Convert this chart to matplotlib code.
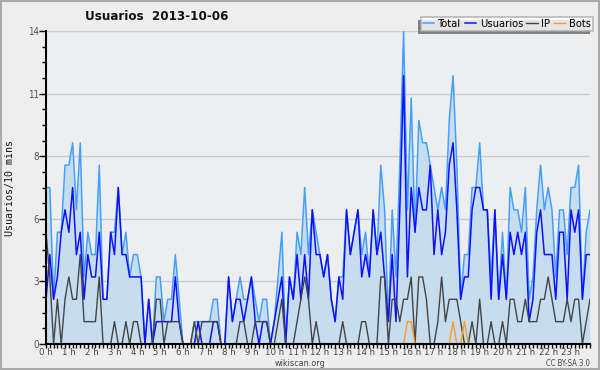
import numpy as np
import matplotlib
matplotlib.use("Agg")
import matplotlib.pyplot as plt
from matplotlib import font_manager as fm
from matplotlib.ticker import FixedLocator, MultipleLocator

# users per 10-minute slot, 2013-10-06 (144 slots)
usuarios = [2, 4, 2, 3, 5, 6, 5, 7, 4, 5, 2, 4, 3, 3, 5, 2, 2, 5, 4, 7,
            4, 4, 3, 3, 3, 3, 0, 2, 0, 1, 1, 1, 1, 1, 3, 1, 0, 0, 0, 0,
            1, 0, 0, 0, 1, 1, 0, 0, 3, 1, 2, 2, 1, 2, 3, 1, 0, 1, 1, 0,
            1, 2, 3, 0, 3, 2, 4, 2, 4, 2, 6, 4,
            4, 3, 4, 2, 1, 3, 2, 6, 4, 5, 6, 3, 4, 3, 6, 4, 5, 3, 1, 4,
            1, 6, 12, 3, 7, 5, 7, 6, 6, 8, 4, 6, 4, 5, 8, 9, 6, 2, 3, 3,
            6, 7, 7, 6, 6, 2, 6, 2, 4, 2, 5, 4, 5, 4, 5, 1, 2, 5, 6, 4,
            4, 4, 2, 5, 5, 2, 6, 5, 6, 2, 4, 4]
ip = [5, 3, 0, 2, 0, 2, 3, 2, 2, 4, 1, 1, 1, 1, 3, 0, 0, 0, 1, 0,
      0, 1, 0, 1, 1, 0, 0, 0, 0, 2, 2, 0, 1, 1, 1, 1, 0, 0, 0, 1,
      0, 1, 1, 1, 1, 1, 0, 0, 0, 0, 0, 1, 1, 0, 0, 1, 1, 1, 1, 0,
      0, 1, 2, 0, 0, 0, 1, 2, 3, 2, 0, 1,
      0, 0, 0, 0, 0, 0, 1, 0, 0, 0, 0, 1, 1, 0, 0, 0, 3, 3, 0, 2,
      2, 1, 2, 2, 3, 0, 3, 3, 2, 0, 0, 1, 3, 1, 2, 2, 2, 1, 0, 0,
      1, 0, 2, 0, 0, 1, 0, 0, 1, 0, 2, 2, 1, 1, 2, 1, 1, 1, 2, 2,
      3, 2, 1, 1, 1, 2, 1, 2, 2, 0, 1, 2]
bots = [0] * 95 + [1, 1] + [0] * 10 + [1, 0, 0, 1] + [0] * 33
total = [7, 7, 2, 5, 5, 8, 8, 9, 6, 9, 3, 5, 4, 4, 8, 2, 2, 5, 5, 7,
         4, 5, 3, 4, 4, 3, 0, 2, 0, 3, 3, 1, 2, 2, 4, 2, 0, 0, 0, 1,
         1, 1, 1, 1, 2, 2, 0, 0, 3, 1, 2, 3, 2, 2, 3, 2, 1, 2, 2, 0,
         1, 3, 5, 0, 3, 2, 5, 4, 7, 4, 6, 5,
         4, 3, 4, 2, 1, 3, 3, 6, 4, 5, 6, 4, 5, 3, 6, 4, 8, 6, 1, 6,
         3, 8, 14, 6, 11, 5, 10, 9, 9, 8, 7, 6, 7, 6, 10, 12, 8, 2, 4, 4,
         7, 7, 9, 6, 6, 3, 6, 2, 5, 2, 7, 6, 6, 5, 7, 2, 3, 6, 8, 6,
         7, 6, 3, 6, 6, 4, 7, 7, 8, 2, 5, 6]
hours = [f"{h} h" for h in range(24)]
y_labels = ["0", "3", "6", "8", "11", "14"]


def narrow_font():
    # prefer a condensed face; fall back to Liberation Sans
    try:
        p = fm.findfont(fm.FontProperties(family="DejaVu Sans", stretch="condensed"),
                        fallback_to_default=False)
        if "ondensed" in p:
            return dict(family="DejaVu Sans", stretch="condensed")
    except Exception:
        pass
    try:
        p = fm.findfont(fm.FontProperties(family="Liberation Sans Narrow"),
                        fallback_to_default=False)
        if "Narrow" in p:
            return dict(family="Liberation Sans Narrow")
    except Exception:
        pass
    return dict(family="Liberation Sans")


NF = narrow_font()
x = np.arange(len(total))

fig = plt.figure(figsize=(6, 3.7), dpi=100, facecolor="#eeeeee")
ax = fig.add_axes([46 / 600, 26 / 370, 544 / 600, 313 / 370])
ax.set_facecolor("#edeef0")

ax.fill_between(x, total, 0, color="#c6ddf0", lw=0)
ax.plot(x, total, color="#44a0ff", lw=1.1, label="Total")
ax.plot(x, usuarios, color="#1010ff", lw=1.1, label="Usuarios")
ax.plot(x, ip, color="#444444", lw=1.0, label="IP")
ax.plot(x, bots, color="#ff9a1a", lw=1.0, label="Bots")

ax.set_xlim(0, len(total) - 1)
ax.set_ylim(0, 14)

yt = np.linspace(0, 14, 6)
ax.yaxis.set_major_locator(FixedLocator(yt))
ax.set_yticklabels(y_labels)
ax.yaxis.set_minor_locator(MultipleLocator(0.7))
ax.xaxis.set_major_locator(FixedLocator(np.arange(0, 144, 6)))
ax.set_xticklabels(hours)
ax.xaxis.set_minor_locator(MultipleLocator(1))
ax.tick_params(axis="y", which="major", labelsize=7, length=5, width=1,
               pad=0, color="#000000", labelcolor="#555555")
ax.tick_params(axis="x", which="major", labelsize=6.8, length=3, width=1,
               pad=0, color="#000000", labelcolor="#444444")
ax.tick_params(axis="both", which="minor", length=3, width=1, color="#000000")
for lab in ax.get_xticklabels() + ax.get_yticklabels():
    lab.set(**NF)
ax.grid(axis="y", color="#cccccc", lw=1)
ax.set_axisbelow(True)
for s in ("top", "right"):
    ax.spines[s].set_visible(False)
for s in ("left", "bottom"):
    ax.spines[s].set_linewidth(1.5)
    ax.spines[s].set_color("#000000")

fig.text(10 / 600, 1 - 188 / 370, "Usuarios/10 mins", family="DejaVu Sans Mono",
         fontsize=7.2, rotation=90, ha="center", va="center", color="#111111")
fig.text(85 / 600, 1 - 17 / 370, "Usuarios  2013-10-06", fontsize=9.5,
         fontweight="bold", va="center", ha="left", color="#111111", **NF)
fig.text(0.5, 1 - 364 / 370, "wikiscan.org", fontsize=6.5, ha="center",
         va="center", color="#444444", **NF)
fig.text(590 / 600, 1 - 364 / 370, "CC BY-SA 3.0", fontsize=5.5, ha="right",
         va="center", color="#444444", **NF)

leg = fig.legend(loc="upper right", bbox_to_anchor=(593 / 600, 1 - 17 / 370),
                 ncol=4, frameon=True, fancybox=False,
                 handlelength=1.0, handletextpad=0.35, columnspacing=0.3,
                 borderpad=0.2, borderaxespad=0, prop=dict(size=8, **NF))
leg.get_frame().set_edgecolor("#aaaaaa")
leg.get_frame().set_facecolor("#ffffff")
leg.get_frame().set_linewidth(1.2)

# legend shadow, offset to the lower left
fig.canvas.draw()
bb = leg.get_window_extent().transformed(fig.transFigure.inverted())
fig.patches.append(plt.Rectangle((bb.x0 - 3 / 600, bb.y0 - 3 / 370), bb.width, bb.height,
                                 transform=fig.transFigure, color="#808080", lw=0,
                                 zorder=1))

fig.patches.append(plt.Rectangle((0.002, 0.003), 0.996, 0.994,
                                 transform=fig.transFigure, fill=False,
                                 edgecolor="#aaaaaa", lw=1.5))
fig.savefig("out.png", dpi=100, facecolor=fig.get_facecolor())
